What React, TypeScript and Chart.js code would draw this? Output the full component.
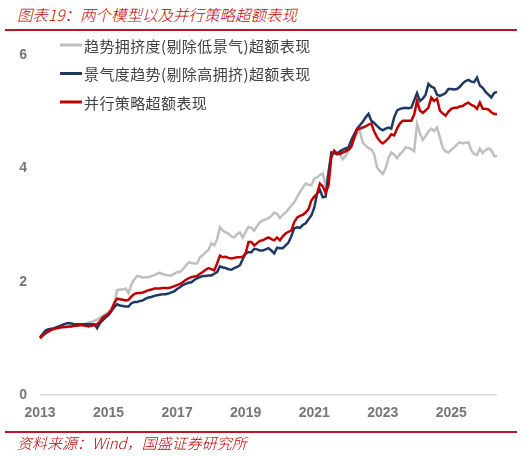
import React, { useEffect, useRef } from 'react';
import { Chart, registerables } from 'chart.js';

Chart.register(...registerables);

// ---- categories (monthly, Jan 2013 .. May 2026) ----
const startYear = 2013;
const monthCount = 161;
const months: string[] = [];
for (let i = 0; i < monthCount; i++) {
  const y = startYear + Math.floor(i / 12);
  const m = (i % 12) + 1;
  months.push(`${y}-${String(m).padStart(2, '0')}`);
}

const xTickYears = ['2013', '2015', '2017', '2019', '2021', '2023', '2025'];
const yTickValues = [0, 2, 4, 6];

const seriesNames = [
  '趋势拥挤度(剔除低景气)超额表现',
  '景气度趋势(剔除高拥挤)超额表现',
  '并行策略超额表现',
];

// 趋势拥挤度(剔除低景气)超额表现
const crowdingTrend = [
  1.02, 1.06, 1.11, 1.13, 1.15, 1.16, 1.17, 1.18, 1.19, 1.20, 1.20, 1.21, 1.22, 1.23, 1.24, 1.25, 1.26, 1.28, 1.29, 1.31, 1.33, 1.36, 1.40, 1.43, 1.46, 1.52, 1.62,
  1.85, 1.86, 1.86, 1.88, 1.80, 1.95, 2.04, 2.10, 2.09, 2.07,
  2.08, 2.08, 2.10, 2.11, 2.14, 2.16, 2.13, 2.12, 2.11, 2.11,
  2.14, 2.17, 2.17, 2.22, 2.28, 2.34, 2.33, 2.32, 2.32, 2.43,
  2.47, 2.52, 2.56, 2.68, 2.64, 2.75, 2.96, 2.90, 2.87, 2.85,
  2.80, 2.78, 2.84, 2.87, 2.78, 2.88, 2.97, 2.95, 2.90, 2.98,
  3.05, 3.08, 3.10, 3.12, 3.16, 3.22, 3.20, 3.12, 3.18, 3.22,
  3.28, 3.34, 3.40, 3.49, 3.58, 3.66, 3.73, 3.71, 3.70, 3.82,
  3.84, 3.88, 3.91, 3.70, 3.95, 4.20, 4.31, 4.28, 4.26, 4.16,
  4.22, 4.31, 4.40, 4.50, 4.62, 4.66, 4.45, 4.40, 4.36, 4.33,
  4.25, 4.02, 3.95, 3.90, 4.00, 4.18, 4.28, 4.24, 4.18, 4.25,
  4.30, 4.37, 4.36, 4.34, 4.30, 4.78, 4.62, 4.50, 4.57, 4.65,
  4.70, 4.66, 4.72, 4.55, 4.36, 4.30, 4.28, 4.33, 4.37, 4.42,
  4.46, 4.44, 4.45, 4.46, 4.32, 4.25, 4.24, 4.35, 4.27, 4.32,
  4.35, 4.32, 4.22, 4.21,
];

// 景气度趋势(剔除高拥挤)超额表现
const prosperityTrend = [
  1.02, 1.08, 1.14, 1.16, 1.17, 1.18, 1.20, 1.22, 1.24, 1.26, 1.27, 1.26, 1.25, 1.25, 1.25, 1.25, 1.25, 1.25, 1.25, 1.25, 1.18, 1.27, 1.32, 1.37, 1.41, 1.48, 1.55,
  1.60, 1.58, 1.57, 1.56, 1.56, 1.62, 1.64, 1.64, 1.66, 1.67,
  1.70, 1.72, 1.73, 1.75, 1.76, 1.77, 1.78, 1.78, 1.79, 1.81,
  1.83, 1.87, 1.90, 1.94, 1.96, 1.98, 1.99, 2.03, 2.06, 2.08,
  2.10, 2.10, 2.11, 2.11, 2.14, 2.17, 2.27, 2.25, 2.24, 2.22,
  2.21, 2.24, 2.26, 2.29, 2.40, 2.50, 2.52, 2.52, 2.58, 2.57,
  2.55, 2.55, 2.57, 2.59, 2.55, 2.50, 2.60, 2.59, 2.59, 2.64,
  2.69, 2.80, 2.94, 2.96, 2.95, 3.00, 3.03, 3.10, 3.17, 3.30,
  3.55, 3.62, 3.49, 3.50, 3.91, 4.28, 4.27, 4.25, 4.30, 4.33,
  4.35, 4.37, 4.50, 4.60, 4.70, 4.76, 4.82, 4.90, 4.96, 4.84,
  4.80, 4.75, 4.70, 4.67, 4.70, 4.72, 4.70, 4.90, 5.02, 5.05,
  5.06, 5.07, 5.06, 5.07, 5.20, 5.33, 5.19, 5.23, 5.30, 5.49,
  5.44, 5.42, 5.30, 5.28, 5.30, 5.33, 5.40, 5.40, 5.39, 5.40,
  5.44, 5.50, 5.54, 5.56, 5.53, 5.52, 5.60, 5.46, 5.42, 5.35,
  5.30, 5.25, 5.33, 5.35,
];

// 并行策略超额表现
const parallelStrategy = [
  1.00, 1.05, 1.09, 1.12, 1.15, 1.17, 1.18, 1.19, 1.20, 1.20, 1.21, 1.21, 1.22, 1.22, 1.23, 1.23, 1.22, 1.21, 1.22, 1.23, 1.25, 1.30, 1.37, 1.40, 1.44, 1.50, 1.62,
  1.70, 1.69, 1.68, 1.67, 1.68, 1.74, 1.78, 1.80, 1.80, 1.81,
  1.83, 1.85, 1.86, 1.88, 1.88, 1.88, 1.89, 1.89, 1.89, 1.90,
  1.92, 1.94, 1.96, 1.99, 2.03, 2.06, 2.08, 2.09, 2.10, 2.14,
  2.17, 2.21, 2.24, 2.22, 2.20, 2.32, 2.46, 2.43, 2.44, 2.42,
  2.41, 2.42, 2.43, 2.43, 2.44, 2.50, 2.70, 2.70, 2.64, 2.68,
  2.72, 2.73, 2.76, 2.78, 2.75, 2.73, 2.78, 2.73, 2.80, 2.85,
  2.88, 2.90, 3.05, 3.13, 3.16, 3.18, 3.22, 3.28, 3.43, 3.50,
  3.55, 3.73, 3.68, 3.57, 3.70, 4.20, 4.31, 4.26, 4.25, 4.28,
  4.30, 4.33, 4.38, 4.54, 4.68, 4.70, 4.72, 4.74, 4.77, 4.79,
  4.65, 4.55, 4.48, 4.44, 4.48, 4.53, 4.60, 4.58, 4.70, 4.79,
  4.84, 4.84, 4.84, 4.84, 4.95, 5.19, 5.02, 4.98, 5.02, 5.07,
  5.25, 5.19, 5.23, 5.02, 4.97, 4.93, 5.00, 5.05, 5.07, 5.07,
  5.09, 5.10, 5.14, 5.16, 5.12, 5.10, 5.05, 5.16, 5.05, 5.05,
  5.04, 4.99, 4.96, 4.96,
];

const seriesColors = ['#BFBFBF', '#1F3864', '#C00000'];

const FONT_CJK = '"Noto Sans CJK SC", "Liberation Sans", sans-serif';
const FONT_TICK = '"Liberation Sans", Arial, sans-serif';

const legendPlugin = {
  id: 'customLegend',
  afterDraw(chart: any) {
    const ctx = chart.ctx;
    ctx.save();
    ctx.font = `15px ${FONT_CJK}`;
    ctx.textBaseline = 'middle';
    ctx.textAlign = 'left';
    try {
      (ctx as any).letterSpacing = '0.4px';
    } catch (e) {
      /* ignore */
    }
    chart.data.datasets.forEach((ds: any, i: number) => {
      const y = 45 + i * 28.5;
      ctx.strokeStyle = ds.borderColor;
      ctx.lineWidth = 3;
      ctx.beginPath();
      ctx.moveTo(60, y);
      ctx.lineTo(82, y);
      ctx.stroke();
      ctx.fillStyle = '#404040';
      ctx.fillText(ds.label, 84, y + 1);
    });
    ctx.restore();
  },
};

export default function App() {
  const canvasRef = useRef<HTMLCanvasElement | null>(null);

  useEffect(() => {
    if (!canvasRef.current) return;
    const chart = new Chart(canvasRef.current, {
      type: 'line',
      data: {
        labels: months,
        datasets: [
          {
            label: seriesNames[0],
            data: crowdingTrend,
            borderColor: seriesColors[0],
            borderWidth: 2.5,
            pointRadius: 0,
            tension: 0,
            order: 3,
          },
          {
            label: seriesNames[1],
            data: prosperityTrend,
            borderColor: seriesColors[1],
            borderWidth: 2.5,
            pointRadius: 0,
            tension: 0,
            order: 2,
          },
          {
            label: seriesNames[2],
            data: parallelStrategy,
            borderColor: seriesColors[2],
            borderWidth: 2.5,
            pointRadius: 0,
            tension: 0,
            order: 1,
          },
        ],
      },
      options: {
        animation: false,
        responsive: false,
        devicePixelRatio: 1,
        layout: { padding: { top: 55, right: 34, left: 0, bottom: 0 } },
        plugins: {
          legend: { display: false },
          title: { display: false },
          tooltip: { enabled: false },
        },
        scales: {
          x: {
            type: 'category',
            offset: false,
            grid: { display: false, drawTicks: false },
            border: { display: false },
            afterBuildTicks: (scale: any) => {
              scale.ticks = xTickYears.map((y) => ({ value: months.indexOf(`${y}-01`) }));
            },
            afterFit: (scale: any) => {
              scale.height = 61;
            },
            ticks: {
              autoSkip: false,
              maxRotation: 0,
              minRotation: 0,
              padding: 10,
              color: '#767676',
              font: { family: FONT_TICK, size: 14, weight: 'bold' },
              callback: (value: any) => months[value as number].slice(0, 4),
            },
          },
          y: {
            min: 0,
            max: 6,
            grid: {
              drawTicks: false,
              lineWidth: 1.5,
              color: (c: any) => (c.tick && c.tick.value === 0 ? '#D9D9D9' : 'rgba(0,0,0,0)'),
            },
            border: { display: false },
            afterBuildTicks: (scale: any) => {
              scale.ticks = yTickValues.map((v) => ({ value: v }));
            },
            afterFit: (scale: any) => {
              scale.width = 40;
            },
            ticks: {
              padding: 13,
              color: '#767676',
              font: { family: FONT_TICK, size: 14, weight: 'bold' },
            },
          },
        },
      },
      plugins: [legendPlugin],
    } as any);
    return () => chart.destroy();
  }, []);

  return (
    <div style={{ position: 'absolute', left: 0, top: 0, width: 531, height: 456, background: '#fff' }}>
      <div
        style={{
          position: 'absolute',
          left: 17,
          top: 4,
          height: 20,
          lineHeight: '20px',
          fontFamily: FONT_CJK,
          fontStyle: 'italic',
          fontWeight: 300,
          fontSize: 15.5,
          color: '#C00000',
          whiteSpace: 'nowrap',
        }}
      >
        图表19：两个模型以及并行策略超额表现
      </div>
      <div style={{ position: 'absolute', left: 5, top: 29, width: 512, height: 2, background: '#C0142B' }} />
      <canvas
        ref={canvasRef}
        width={531}
        height={456}
        style={{ position: 'absolute', left: 0, top: 0, width: 531, height: 456 }}
      />
      <div style={{ position: 'absolute', left: 5, top: 431, width: 512, height: 2, background: '#C0142B' }} />
      <div
        style={{
          position: 'absolute',
          left: 17,
          top: 433,
          height: 20,
          lineHeight: '20px',
          fontFamily: FONT_CJK,
          fontStyle: 'italic',
          fontWeight: 300,
          fontSize: 15,
          color: '#C00000',
          whiteSpace: 'nowrap',
        }}
      >
        资料来源：Wind，国盛证券研究所
      </div>
    </div>
  );
}
